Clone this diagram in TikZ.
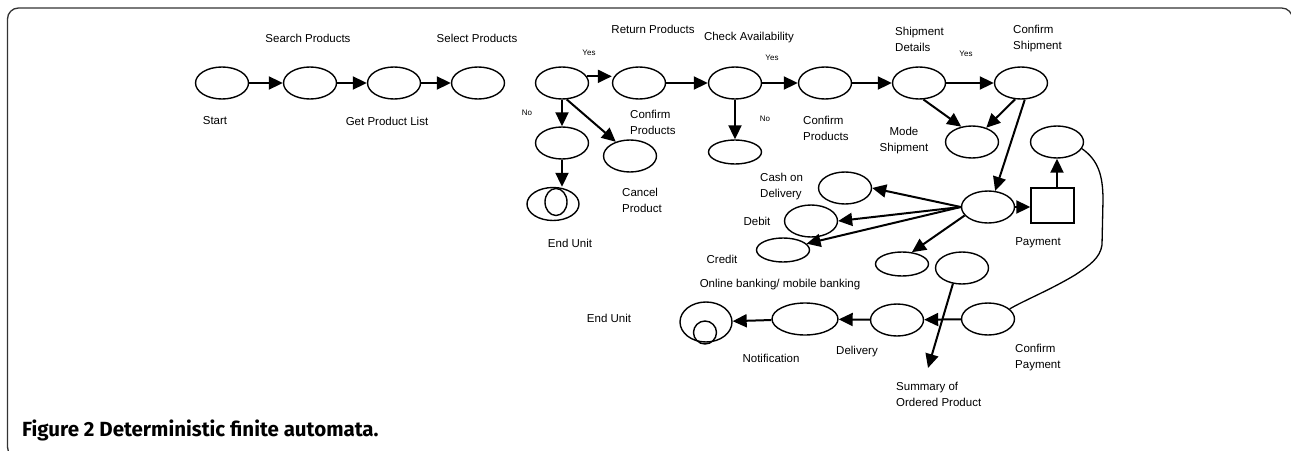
\documentclass[tikz,border=0pt]{standalone}
\usepackage{fontspec}
\setmainfont{Liberation Sans}
\newfontfamily\capfont{Fira Sans}
\usetikzlibrary{shapes, arrows.meta}

\begin{document}
\begin{tikzpicture}[x=1pt, y=-1pt,
    st/.style={ellipse, draw=black, line width=1.4pt, minimum width=53pt, minimum height=32pt, inner sep=0pt},
    lbl/.style={font=\fontsize{11.5}{16}\selectfont, inner sep=0pt, align=left},
    yn/.style={font=\fontsize{8}{10}\selectfont, inner sep=0pt},
    go/.style={-{Triangle[length=14pt, width=13pt]}, line width=2pt},
  ]
		\useasboundingbox (0,0) rectangle (1291,450);
		\begin{scope}
			\clip (0,0) rectangle (1291,450);
			\draw[line width=1.3pt, black!80, rounded corners=11pt] (7.5,8) rectangle (1292.6,458);
		\end{scope}
		\def\yr{83}
		% product selection
		\node[st] (start) at (222,\yr) {};
		\node[st] (search) at (310,\yr) {};
		\node[st] (getlist) at (394,\yr) {};
		\node[st] (select) at (478,\yr) {};
		\node[st] (choose) at (562,\yr) {};
		\node[st] (ret) at (639,\yr) {};
		\node[st] (noprod) at (562,143) {};
		\node[st] (cancel) at (630,156) {};
		\node[st, minimum width=52pt, minimum height=33pt] (endA) at (553,204) {};
		\node[ellipse, draw, line width=1.4pt, minimum width=22pt, minimum height=27pt, inner sep=0pt] (endAin) at (556,202) {};
		% availability and shipment
		\node[st] (check) at (735,\yr) {};
		\node[st, minimum height=24pt] (unavail) at (735,152) {};
		\node[st] (confprod) at (825,\yr) {};
		\node[st] (shipdet) at (919,\yr) {};
		\node[st] (confship) at (1021,\yr) {};
		\node[st] (mode) at (972,142) {};
		% payment
		\node[st] (paysel) at (988,207) {};
		\node[draw, line width=1.4pt, minimum width=43pt, minimum height=35pt, inner sep=0pt] (paybox) at (1052.5,205.5) {};
		\node[st] (payok) at (1057,142) {};
		\node[st] (cash) at (845,188) {};
		\node[st] (debit) at (811,221) {};
		\node[st, minimum height=24pt] (credit) at (783,250) {};
		\node[st, minimum height=24pt] (online) at (902,264) {};
		\node[st] (summ) at (962,268) {};
		\node[st] (confpay) at (988,319) {};
		\node[st] (deliv) at (897,320) {};
		\node[st, minimum width=66pt] (notif) at (805,319) {};
		\node[st, minimum width=52pt, minimum height=40pt] (endB) at (706,322) {};
		\node[circle, draw, line width=1.4pt, minimum size=23pt, inner sep=0pt] (endBin) at (705,332.5) {};
		\coordinate (sumend) at (928,368);

		\draw[go] (start) -- (search);
		\draw[go] (search) -- (getlist);
		\draw[go] (getlist) -- (select);
		\draw[go] (choose.15) -- (choose.15 -| ret.west);
		\draw[go] (choose.south) -- (noprod.north);
		\draw[go] (choose.-74) -- (cancel.135);
		\draw[go] (noprod.south) -- (noprod.south |- endA.north);
		\draw[go] (ret) -- (check);
		\draw[go] (check) -- (confprod);
		\draw[go] (check.south) -- (unavail.north);
		\draw[go] (confprod) -- (shipdet);
		\draw[go] (shipdet) -- (confship);
		\draw[go] (shipdet.-75) -- (mode.125);
		\draw[go] (confship.-110) -- (mode.45);
		\draw[go] (confship.-77) -- (paysel.66);
		\draw[go] (paysel.east) -- (paysel.east -| paybox.west);
		\draw[go] (payok.south |- paybox.north) -- (payok.south);
		\draw[go] (paysel.west) -- (cash.east);
		\draw[go] (paysel.west) -- (debit.east);
		\draw[go] (paysel.west) -- (credit.15);
		\draw[go] (paysel.200) -- (online.50);
		\draw[go] (summ.-120) -- (sumend);
		\draw[go] (confpay) -- (deliv);
		\draw[go] (deliv) -- (notif);
		\draw[go] (notif) -- (endB);
		\draw[line width=1.3pt] (payok.-15) .. controls (1098,160) and (1103,175) .. (1103,200)
			-- (1102,245) .. controls (1100,258) and (1090,265) .. (1075,275)
			.. controls (1050,290) and (1025,300) .. (confpay.25);

		% labels
		\node[lbl] (lsearch) at (308,38) {Search Products};
		\node[lbl] (lselect) at (477,38) {Select Products};
		\node[lbl] (lstart) at (215,121) {Start};
		\node[lbl] (lgetlist) at (387,121) {Get Product List};
		\node[yn] (yesA) at (589,53) {Yes};
		\node[yn] (noA) at (527,113) {No};
		\node[lbl] (lret) at (653,29) {Return Products};
		\node[lbl, anchor=west] (lconfA) at (630,122) {Confirm\\Products};
		\node[lbl, anchor=west] (lcancel) at (622,200) {Cancel\\Product};
		\node[lbl] (lendA) at (570,243) {End Unit};
		\node[lbl] (lcheck) at (749,38) {Check Availability};
		\node[yn] (yesB) at (772,58) {Yes};
		\node[yn] (noB) at (765,119) {No};
		\node[lbl, anchor=west] (lconfB) at (803,128) {Confirm\\Products};
		\node[lbl, anchor=west] (lshipdet) at (895,39) {Shipment\\Details};
		\node[yn] (yesC) at (966,54) {Yes};
		\node[lbl, anchor=west] (lconfship) at (1013,39) {Confirm\\Shipment};
		\node[lbl, align=center] (lmode) at (904,141) {Mode\\Shipment};
		\node[lbl, anchor=west] (lcash) at (760,187) {Cash on\\Delivery};
		\node[lbl] (ldebit) at (757,221) {Debit};
		\node[lbl] (lcredit) at (722,259) {Credit};
		\node[lbl] (lonline) at (780,285) {Online banking/ mobile banking};
		\node[lbl] (lpay) at (1038,243) {Payment};
		\node[lbl, anchor=west] (lsumm) at (896,394) {Summary of\\Ordered Product};
		\node[lbl, anchor=west] (lconfpay) at (1015,358) {Confirm\\Payment};
		\node[lbl] (ldeliv) at (857,352) {Delivery};
		\node[lbl] (lnotif) at (771,358) {Notification};
		\node[lbl] (lendB) at (609,318) {End Unit};
		\node[anchor=west, inner sep=0pt, font=\capfont\bfseries\fontsize{20.5}{22}\selectfont] (caption) at (22,430) {Figure 2 Deterministic finite automata.};
	\end{tikzpicture}
\end{document}
